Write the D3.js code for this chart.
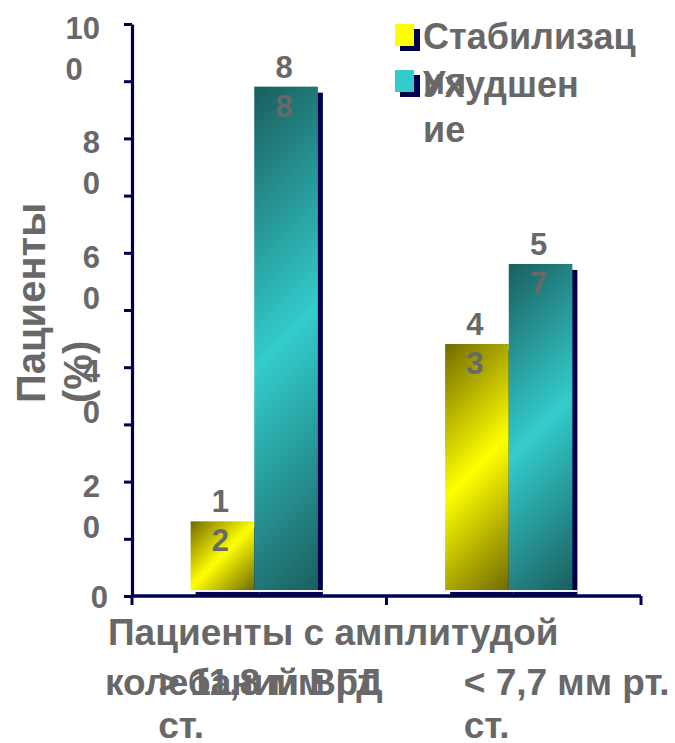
<!DOCTYPE html>
<html>
<head>
<meta charset="utf-8">
<script src="https://cdn.jsdelivr.net/npm/d3@7"></script>
<style>
  html, body { margin: 0; padding: 0; background: #fff; }
  svg { display: block; }
  text { font-family: "Liberation Sans", Arial, sans-serif; font-weight: bold; fill: #686868; }
</style>
</head>
<body>
<svg id="chart" width="675" height="743"></svg>
<script>
// ---- data ----
const categories = ["> 11,8 мм рт. ст.", "< 7,7 мм рт. ст."];
const seriesNames = ["Стабилизация", "Ухудшение"];
const stabilization = [12, 43];
const worsening = [88, 57];
const yTickValues = [0, 20, 40, 60, 80, 100];
const legendLines = [["Стабилизац", "ия"], ["Ухудшен", "ие"]];
const xTitleLines = ["Пациенты с амплитудой", "колебаний ВГД"];
const yTitleLines = ["Пациенты", "(%)"];

// ---- layout ----
const plot = { left: 132, right: 641, top: 24, bottom: 596 };
const navy = "#00004d";
const depth = { dx: 5, dy: 6 };          // offset between shadow and bar face
const catLabelShift = [-101, -50];        // left edge of category label vs band centre

const svg = d3.select("#chart");
const defs = svg.append("defs");

const y = d3.scaleLinear().domain([0, 100]).range([plot.bottom, plot.top]);
const x0 = d3.scaleBand().domain(categories).range([plot.left, plot.right]);
const x1 = d3.scaleBand().domain(seriesNames)
  .range([x0.bandwidth() / 4, x0.bandwidth() * 3 / 4]);

const seriesValues = [stabilization, worsening];
const palette = {
  "Стабилизация": { edge: "#716a00", mid: "#ffff00", solid: "#ffff00" },
  "Ухудшение":   { edge: "#1b5e5e", mid: "#33cccc", solid: "#33cccc" }
};

const bars = [];
categories.forEach((c, ci) => {
  seriesNames.forEach((s, si) => {
    bars.push({ cat: c, ci, series: s, si, value: seriesValues[si][ci] });
  });
});

// ---- y axis ----
const yAxis = d3.axisLeft(y)
  .tickValues(d3.range(0, 101, 10))
  .tickSize(8)
  .tickSizeOuter(0)
  .tickFormat("");
const yAxisG = svg.append("g")
  .attr("transform", `translate(${plot.left},0)`)
  .call(yAxis);
yAxisG.select(".domain").attr("stroke", navy).attr("stroke-width", 3.2);
yAxisG.selectAll(".tick line").attr("stroke", navy).attr("stroke-width", 3);

// ---- bars: shadows first, then the faces ----
const barW = x1.bandwidth();
const shadowG = svg.append("g");
const faceG = svg.append("g");

bars.forEach((b, i) => {
  const bx = x0(b.cat) + x1(b.series);
  const by = y(b.value);
  const bh = y(0) - by;
  shadowG.append("rect")
    .attr("x", bx).attr("y", by).attr("width", barW).attr("height", bh)
    .attr("fill", navy);

  const fx = bx - depth.dx, fy = by - depth.dy;
  const cx = fx + barW / 2, cy = fy + bh / 2;
  const d = (barW + bh) / 4;
  const id = "grad" + i;
  const g = defs.append("linearGradient").attr("id", id)
    .attr("gradientUnits", "userSpaceOnUse")
    .attr("x1", cx - d).attr("y1", cy - d)
    .attr("x2", cx + d).attr("y2", cy + d);
  const p = palette[b.series];
  g.append("stop").attr("offset", 0).attr("stop-color", p.edge);
  g.append("stop").attr("offset", 0.5).attr("stop-color", p.mid);
  g.append("stop").attr("offset", 1).attr("stop-color", p.edge);

  faceG.append("rect")
    .attr("x", fx).attr("y", fy).attr("width", barW).attr("height", bh)
    .attr("fill", `url(#${id})`);
  b.fx = fx; b.fy = fy;
});

// thin light seam under the bar faces
categories.forEach(c => {
  const left = x0(c) + x1(seriesNames[0]) - depth.dx;
  const right = x0(c) + x1(seriesNames[1]) + barW;
  svg.append("line")
    .attr("x1", left).attr("x2", right)
    .attr("y1", y(0) - depth.dy + 1).attr("y2", y(0) - depth.dy + 1)
    .attr("stroke", "#f2f2f2").attr("stroke-width", 2);
});

// ---- x axis ----
const xBounds = [plot.left, ...categories.map(c => x0(c) + x0.bandwidth())];
svg.append("path")
  .attr("d", `M${plot.left},${y(0)}H${plot.right}`)
  .attr("stroke", navy).attr("stroke-width", 3.5).attr("fill", "none");
svg.selectAll(".xtick").data(xBounds).join("line")
  .attr("x1", d => d).attr("x2", d => d)
  .attr("y1", y(0)).attr("y2", y(0) + 9)
  .attr("stroke", navy).attr("stroke-width", 3);

// ---- helpers ----
const splitLast = s => s.length > 1 ? [s.slice(0, -1), s.slice(-1)] : [s];

// ---- y tick labels (narrow label box makes them break) ----
yTickValues.forEach(t => {
  const lines = splitLast(String(t));
  if (lines.length === 1) {
    svg.append("text").attr("x", 108).attr("y", y(t) + 12)
      .attr("text-anchor", "end").attr("font-size", 31).text(lines[0]);
  } else {
    const first = svg.append("text").attr("x", 100).attr("y", y(t) + 15)
      .attr("text-anchor", "end").attr("font-size", 31).text(lines[0]);
    const w = first.node().getComputedTextLength();
    svg.append("text").attr("x", 100 - w).attr("y", y(t) + 56)
      .attr("font-size", 31).text(lines[1]);
  }
});

// ---- value labels ----
bars.forEach(b => {
  const lines = splitLast(String(b.value));
  const cx = b.fx + barW / 2 - 2;
  svg.append("text").attr("x", cx).attr("y", b.fy - 9)
    .attr("text-anchor", "middle").attr("font-size", 31).text(lines[0]);
  svg.append("text").attr("x", cx).attr("y", b.fy + 30)
    .attr("text-anchor", "middle").attr("font-size", 31).text(lines[1]);
});

// ---- y axis title ----
yTitleLines.forEach((t, i) => {
  svg.append("text")
    .attr("transform", `translate(${45 + i * 47},403) rotate(-90)`)
    .attr("font-size", 40).text(t);
});

// ---- x axis title and category labels ----
svg.append("text").attr("x", 108).attr("y", 645).attr("font-size", 37).text(xTitleLines[0]);
svg.append("text").attr("x", 105).attr("y", 695).attr("font-size", 37).text(xTitleLines[1]);

categories.forEach((c, i) => {
  const cut = c.lastIndexOf(" ");
  const lines = [c.slice(0, cut), c.slice(cut + 1)];
  const lx = x0(c) + x0.bandwidth() / 2 + catLabelShift[i];
  lines.forEach((ln, j) => {
    svg.append("text").attr("x", lx).attr("y", 695 + j * 43)
      .attr("font-size", 37).text(ln);
  });
});

// ---- legend ----
seriesNames.forEach((s, i) => {
  const ly = 24 + i * 46;
  svg.append("rect").attr("x", 400).attr("y", ly + 5).attr("width", 20).attr("height", 22)
    .attr("fill", navy);
  svg.append("rect").attr("x", 395).attr("y", ly).attr("width", 19).attr("height", 22)
    .attr("fill", palette[s].solid);
  legendLines[i].forEach((ln, j) => {
    svg.append("text").attr("x", 423).attr("y", 49 + i * 48 + j * 45)
      .attr("font-size", 36).text(ln);
  });
});
</script>
</body>
</html>
